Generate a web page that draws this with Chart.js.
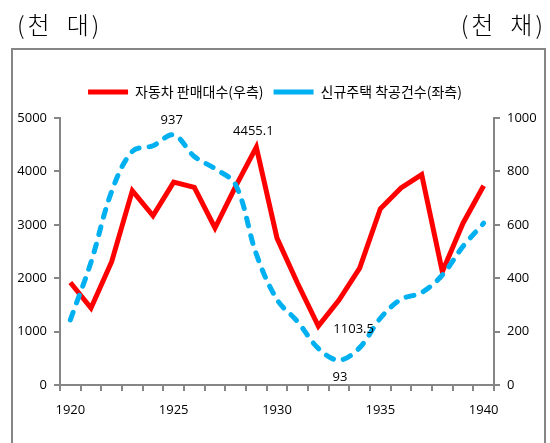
<!DOCTYPE html>
<html>
<head>
<meta charset="utf-8">
<script src="https://cdn.jsdelivr.net/npm/chart.js@4.4.0/dist/chart.umd.min.js"></script>
<style>
  html, body { margin: 0; padding: 0; background: #fff; }
  #wrap { width: 550px; height: 443px; }
</style>
</head>
<body>
<div id="wrap"><canvas id="chart" width="550" height="443"></canvas></div>
<script>
// Data
const years = [
  "1920", "1921", "1922", "1923", "1924", "1925", "1926", "1927", "1928", "1929", "1930",
  "1931", "1932", "1933", "1934", "1935", "1936", "1937", "1938", "1939", "1940",
];
// 자동차 판매대수 (천 대), drawn on the left axis
const carSales = [
  1920, 1440, 2310, 3640, 3170, 3800, 3700, 2940, 3720, 4455.1, 2750,
  1900, 1103.5, 1590, 2190, 3300, 3690, 3940, 2120, 3030, 3730,
];
// 신규주택 착공건수 (천 채), drawn on the right axis
const housingStarts = [
  244, 460, 725, 875, 896, 937, 856, 810, 750, 490, 320,
  237, 137, 93, 140, 250, 321, 346, 412, 519, 606,
];
const xTickLabels = ["1920", "1925", "1930", "1935", "1940"];
const leftTicks = [0, 1000, 2000, 3000, 4000, 5000];
const rightTicks = [0, 200, 400, 600, 800, 1000];

const salesLabel = "자동차 판매대수(우측)";
const housingLabel = "신규주택 착공건수(좌측)";
const leftUnit = "(천 대)";
const rightUnit = "(천 채)";

// Which points carry a value label
const salesMarked = ["1929", "1932"];
const housingMarked = ["1925", "1933"];

const AXIS_GRAY = "#868686";
const TICK_FONT = { family: "'Open Sans', 'Noto Sans', sans-serif", size: 13 };
const KR_FONT = "'Noto Sans CJK KR', 'Noto Sans', sans-serif";

// unit captions have a wide gap between the words
function drawUnit(ctx, text, x, align) {
  const parts = text.split(" ");
  const gap = 14;
  const widths = parts.map((p) => ctx.measureText(p).width);
  const total = widths.reduce((a, b) => a + b, 0) + gap * (parts.length - 1);
  let cx = align === "right" ? x - total : x;
  parts.forEach((p, i) => {
    ctx.fillText(p, cx, 25);
    cx += widths[i] + gap;
  });
}

// Outer frame and unit captions
const framePlugin = {
  id: "frame",
  beforeDraw(chart) {
    const { ctx, width } = chart;
    ctx.save();
    ctx.fillStyle = "#fff";
    ctx.fillRect(0, 0, width, chart.height);
    ctx.strokeStyle = AXIS_GRAY;
    ctx.lineWidth = 2;
    ctx.strokeRect(12, 49, 533, 420);
    ctx.fillStyle = "#000";
    ctx.font = `300 24px ${KR_FONT}`;
    ctx.letterSpacing = "3px";
    ctx.textBaseline = "middle";
    ctx.textAlign = "left";
    drawUnit(ctx, leftUnit, 17, "left");
    drawUnit(ctx, rightUnit, 546, "right");
    ctx.restore();
  },
};

// Value labels next to marked points
const valueLabelPlugin = {
  id: "valueLabels",
  afterDatasetsDraw(chart) {
    const { ctx } = chart;
    ctx.save();
    ctx.fillStyle = "#000";
    ctx.font = `${TICK_FONT.size}px ${TICK_FONT.family}`;
    ctx.textBaseline = "middle";

    const sales = chart.getDatasetMeta(1);
    salesMarked.forEach((yr) => {
      const i = years.indexOf(yr);
      const pt = sales.data[i];
      const text = String(carSales[i]);
      if (yr === "1932") {
        ctx.textAlign = "left";
        ctx.fillText(text, pt.x + 15, pt.y + 3);
      } else {
        ctx.textAlign = "center";
        ctx.fillText(text, pt.x - 3, pt.y - 16);
      }
    });

    const housing = chart.getDatasetMeta(0);
    housingMarked.forEach((yr) => {
      const i = years.indexOf(yr);
      const pt = housing.data[i];
      const text = String(housingStarts[i]);
      ctx.textAlign = "center";
      if (yr === "1933") {
        ctx.fillText(text, pt.x + 1, pt.y + 17);
      } else {
        ctx.fillText(text, pt.x - 2, pt.y - 15);
      }
    });
    ctx.restore();
  },
};

// Push the plot down a little below the legend
const legendSpacer = {
  id: "legendSpacer",
  beforeInit(chart) {
    const fit = chart.legend.fit;
    chart.legend.fit = function () {
      fit.bind(chart.legend)();
      this.height += 9;
    };
  },
};

const plainNumber = (v) => String(v);

const ctx = document.getElementById("chart").getContext("2d");
const chart = new Chart(ctx, {
  type: "line",
  data: {
    labels: years,
    datasets: [
      {
        label: housingLabel,
        data: housingStarts,
        yAxisID: "y1",
        borderColor: "#00B0F0",
        backgroundColor: "#00B0F0",
        borderWidth: 5,
        borderDash: [8, 10],
        borderCapStyle: "round",
        tension: 0.35,
        pointRadius: 0,
        fill: false,
      },
      {
        label: salesLabel,
        data: carSales,
        yAxisID: "y",
        borderColor: "#FF0000",
        backgroundColor: "#FF0000",
        borderWidth: 5,
        borderJoinStyle: "miter",
        tension: 0,
        pointRadius: 0,
        fill: false,
      },
    ],
  },
  options: {
    responsive: false,
    animation: false,
    devicePixelRatio: 1,
    layout: { padding: { top: 75, left: 12, right: 12, bottom: 10 } },
    plugins: {
      legend: {
        position: "top",
        reverse: true,
        labels: {
          usePointStyle: true,
          pointStyle: "line",
          pointStyleWidth: 40,
          padding: 10,
          color: "#000",
          font: { family: KR_FONT, size: 14 },
        },
      },
      tooltip: { enabled: false },
    },
    scales: {
      x: {
        type: "category",
        offset: true,
        grid: {
          offset: true,
          drawOnChartArea: false,
          drawTicks: true,
          tickLength: 6,
          color: AXIS_GRAY,
          lineWidth: 2,
        },
        border: { color: AXIS_GRAY, width: 2 },
        ticks: {
          autoSkip: false,
          maxRotation: 0,
          padding: 11,
          color: "#000",
          font: TICK_FONT,
          callback: function (value) {
            const lab = this.getLabelForValue(value);
            return xTickLabels.includes(lab) ? lab : "";
          },
        },
        afterFit: (s) => { s.height = 48; },
      },
      y: {
        position: "left",
        min: 0,
        max: 5000,
        afterBuildTicks: (s) => { s.ticks = leftTicks.map((v) => ({ value: v })); },
        grid: {
          drawOnChartArea: false,
          tickLength: 6,
          color: AXIS_GRAY,
          lineWidth: 2,
        },
        border: { color: AXIS_GRAY, width: 2 },
        ticks: { padding: 7, color: "#000", font: TICK_FONT, callback: plainNumber },
        afterFit: (s) => { s.width = 48; },
      },
      y1: {
        position: "right",
        min: 0,
        max: 1000,
        afterBuildTicks: (s) => { s.ticks = rightTicks.map((v) => ({ value: v })); },
        grid: {
          drawOnChartArea: false,
          tickLength: 6,
          color: AXIS_GRAY,
          lineWidth: 2,
        },
        border: { color: AXIS_GRAY, width: 2 },
        ticks: { padding: 7, color: "#000", font: TICK_FONT, callback: plainNumber },
        afterFit: (s) => { s.width = 44; },
      },
    },
  },
  plugins: [framePlugin, valueLabelPlugin, legendSpacer],
});
</script>
</body>
</html>
